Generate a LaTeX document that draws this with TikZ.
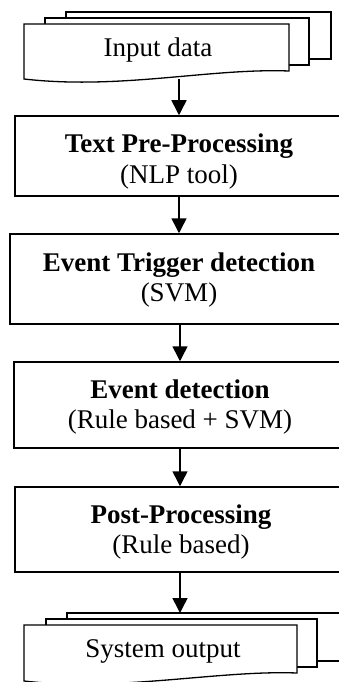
\documentclass[tikz,border=0pt]{standalone}
\usepackage{fontspec}
\setmainfont{Liberation Serif}
\usetikzlibrary{arrows.meta}
\begin{document}
\begin{tikzpicture}[x=1pt,y=-1pt,
  procbox/.style={draw, line width=1.5pt, fill=white, inner sep=0pt},
  lbl/.style={font=\fontsize{27}{32}\selectfont, anchor=base, inner sep=0pt},
  flow/.style={line width=1.5pt, -{Triangle[length=15pt,width=15pt]}},
  doc/.style={draw, line width=1.3pt, fill=white, line join=miter}]
\useasboundingbox (0,0) rectangle (338,682);

% input multi-document
\draw[doc] (66,12) rectangle (331,59);
\draw[doc] (45,18) rectangle (309,65);
\draw[doc] (24,24) -- (289,24) -- (289,71) .. controls (210,68) and (120,90) .. (24,79) -- cycle;
\node[lbl] (in) at (158,57) {Input data};
\coordinate (inb) at (179,79);

% process boxes
\node[procbox, minimum width=328pt, minimum height=80pt] (b1) at (179,156) {};
\node[lbl] (b1a) at (179,152) {\bfseries Text Pre-Processing};
\node[lbl] (b1b) at (179,183) {(NLP tool)};

\node[procbox, minimum width=338pt, minimum height=90pt] (b2) at (179,279) {};
\node[lbl] (b2a) at (179,271) {\bfseries Event Trigger detection};
\node[lbl] (b2b) at (179,301) {(SVM)};

\node[procbox, minimum width=332pt, minimum height=86pt] (b3) at (180,405) {};
\node[lbl] (b3a) at (180,398) {\bfseries Event detection};
\node[lbl] (b3b) at (180,428) {(Rule based + SVM)};

\node[procbox, minimum width=330pt, minimum height=85pt] (b4) at (180,529.5) {};
\node[lbl] (b4a) at (181,523) {\bfseries Post-Processing};
\node[lbl] (b4b) at (181,553) {(Rule based)};

% output multi-document
\draw[doc] (67,613) rectangle (380,661);
\draw[doc] (46,619) rectangle (317,667);
\draw[doc] (24,625) -- (297,625) -- (297,673) .. controls (218,670) and (120,692) .. (24,681) -- cycle;
\node[lbl] (out) at (163,657) {System output};
\coordinate (outt) at (180,613);

% connectors
\draw[flow] (inb) -- (b1.north);
\draw[flow] (b1.south) -- (b2.north -| b1.south);
\draw[flow] (b2.south -| b3.north) -- (b3.north);
\draw[flow] (b3.south) -- (b4.north);
\draw[flow] (b4.south) -- (outt);
\end{tikzpicture}
\end{document}
